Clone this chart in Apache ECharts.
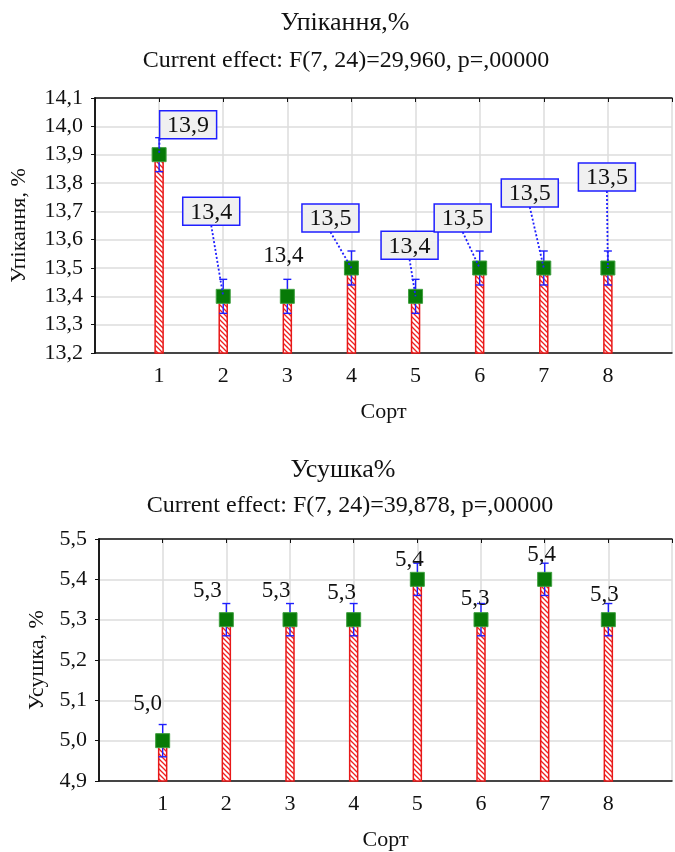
<!DOCTYPE html>
<html>
<head>
<meta charset="utf-8">
<script src="https://cdn.jsdelivr.net/npm/echarts@6/dist/echarts.min.js"></script>
<style>
  html, body { margin: 0; padding: 0; background: #fff; }
  #chart { width: 675px; height: 852px; }
</style>
</head>
<body>
<div id="chart"></div>
<script>
// сорти
var sorts = [1, 2, 3, 4, 5, 6, 7, 8];

// Упікання, %
var upikValues = [13.9, 13.4, 13.4, 13.5, 13.4, 13.5, 13.5, 13.5];
var upikErr = [0.06, 0.06, 0.06, 0.06, 0.06, 0.06, 0.06, 0.06];
var upikTicks = { min: 13.2, max: 14.1, step: 0.1 };

// Усушка, %
var usushValues = [5.0, 5.3, 5.3, 5.3, 5.4, 5.3, 5.4, 5.3];
var usushErr = [0.04, 0.04, 0.04, 0.04, 0.04, 0.04, 0.04, 0.04];
var usushTicks = { min: 4.9, max: 5.5, step: 0.1 };

// розміщення підписів (зсув від точки, px) і чи в рамці
var upikLabelShift = [[29, -30], [-12, -85], [-4, -41], [-21, -50], [-6, -51], [-17, -50], [-14, -75], [-1, -91]];
var upikLabelBoxed = [true, true, false, true, true, true, true, true];
var usushLabelShift = [[-15, -38], [-19, -30], [-14, -30], [-12, -28], [-8, -20], [-6, -22], [-3, -25], [-4, -26]];

var FONT = '"Liberation Serif", "Times New Roman", serif';

function fmt(v) {
    return v.toFixed(1).replace('.', ',');
}

// штрихування стовпчиків
function makeHatch() {
    var c = document.createElement('canvas');
    c.width = 5; c.height = 5;
    var ctx = c.getContext('2d');
    ctx.fillStyle = '#fff';
    ctx.fillRect(0, 0, 5, 5);
    ctx.strokeStyle = '#f02020';
    ctx.lineWidth = 1.3;
    ctx.beginPath();
    ctx.moveTo(0, 0); ctx.lineTo(5, 5);
    ctx.moveTo(-2, 3); ctx.lineTo(2, 7);
    ctx.moveTo(3, -2); ctx.lineTo(7, 2);
    ctx.stroke();
    return c;
}
var hatch = { image: makeHatch(), repeat: 'repeat' };

function pointRender(yMin) {
    return function (params, api) {
        var x = api.value(0), v = api.value(1), e = api.value(2);
        var top = api.coord([x, v]);
        var base = api.coord([x, yMin]);
        var hi = api.coord([x, v + e]);
        var lo = api.coord([x, v - e]);
        var bw = 8, cap = 4, sq = 14;
        return {
            type: 'group',
            children: [
                { type: 'rect', shape: { x: top[0] - bw / 2, y: top[1], width: bw, height: base[1] - top[1] },
                  style: { fill: hatch, stroke: '#e81818', lineWidth: 1.5 } },
                { type: 'line', shape: { x1: hi[0], y1: hi[1], x2: lo[0], y2: lo[1] },
                  style: { stroke: '#1f1fff', lineWidth: 1.4 } },
                { type: 'line', shape: { x1: hi[0] - cap, y1: hi[1], x2: hi[0] + cap, y2: hi[1] },
                  style: { stroke: '#1f1fff', lineWidth: 1.4 } },
                { type: 'line', shape: { x1: lo[0] - cap, y1: lo[1], x2: lo[0] + cap, y2: lo[1] },
                  style: { stroke: '#1f1fff', lineWidth: 1.4 } },
                { type: 'rect', shape: { x: top[0] - sq / 2, y: top[1] - sq / 2, width: sq, height: sq },
                  style: { fill: '#077a07', stroke: '#3f9f3f', lineWidth: 1 } }
            ]
        };
    };
}

function labelRender(params, api) {
    var x = api.value(0), v = api.value(1);
    var dx = api.value(2), dy = api.value(3), boxed = api.value(4);
    var p = api.coord([x, v]);
    var cx = p[0] + dx, cy = p[1] + dy;
    var txt = { type: 'text', style: { text: fmt(v), x: cx, y: cy + 1, align: 'center', verticalAlign: 'middle',
                font: (boxed ? '24px ' : '23px ') + FONT, fill: '#111' } };
    if (!boxed) return txt;
    var w = 57, h = 28;
    var left = cx - w / 2, bottom = cy + h / 2;
    var sx = Math.min(Math.max(p[0], left), cx);
    return {
        type: 'group',
        children: [
            { type: 'line', shape: { x1: sx, y1: bottom, x2: p[0], y2: p[1] },
              style: { stroke: '#1f1fff', lineWidth: 1.8, lineDash: [2, 2] } },
            { type: 'rect', shape: { x: left, y: cy - h / 2, width: w, height: h },
              style: { fill: '#f0f0f0', stroke: '#1f1fff', lineWidth: 1.5 } },
            txt
        ]
    };
}

function xAxes(gridIndex) {
    var common = { type: 'value', gridIndex: gridIndex, min: 0, max: 9, interval: 1 };
    return [
        Object.assign({}, common, {
            position: 'bottom',
            name: 'Сорт', nameLocation: 'middle', nameGap: 48,
            nameTextStyle: { fontFamily: FONT, fontSize: 22, color: '#111' },
            axisLine: { lineStyle: { color: '#111', width: 1.5 } },
            axisTick: { show: false },
            axisLabel: { margin: 12, fontFamily: FONT, fontSize: 22, color: '#111',
                formatter: function (v) { return (v >= 1 && v <= 8) ? String(v) : ''; } },
            splitLine: { show: true, lineStyle: { color: '#dcdcdc', width: 1.5 } }
        }),
        Object.assign({}, common, {
            position: 'top',
            axisLine: { lineStyle: { color: '#111', width: 1.5 } },
            axisTick: { inside: true, length: 4, lineStyle: { color: '#111' } },
            axisLabel: { show: false },
            splitLine: { show: false }
        })
    ];
}

function yAxes(gridIndex, ticks, name, gap) {
    var common = { type: 'value', gridIndex: gridIndex, min: ticks.min, max: ticks.max, interval: ticks.step };
    return [
        Object.assign({}, common, {
            position: 'left',
            name: name, nameLocation: 'middle', nameGap: gap,
            nameTextStyle: { fontFamily: FONT, fontSize: 22, color: '#111' },
            axisLine: { show: true, lineStyle: { color: '#111', width: 1.5 } },
            axisTick: { show: false },
            axisLabel: { margin: 12, fontFamily: FONT, fontSize: 22, color: '#111',
                formatter: function (v) { return fmt(v); } },
            splitLine: { show: true, lineStyle: { color: '#dcdcdc', width: 1.5 } }
        }),
        Object.assign({}, common, {
            position: 'right',
            axisLine: { show: true, lineStyle: { color: '#111', width: 1.5 } },
            axisTick: { show: true, inside: true, length: 4, lineStyle: { color: '#111' } },
            axisLabel: { show: false },
            splitLine: { show: false }
        })
    ];
}

var upikPoints = sorts.map(function (s, i) { return [s, upikValues[i], upikErr[i]]; });
var usushPoints = sorts.map(function (s, i) { return [s, usushValues[i], usushErr[i]]; });
var upikLabels = sorts.map(function (s, i) {
    return [s, upikValues[i], upikLabelShift[i][0], upikLabelShift[i][1], upikLabelBoxed[i] ? 1 : 0];
});
var usushLabels = sorts.map(function (s, i) {
    return [s, usushValues[i], usushLabelShift[i][0], usushLabelShift[i][1], 0];
});

var chart = echarts.init(document.getElementById('chart'), null, { renderer: 'canvas' });

var option = {
    backgroundColor: '#fff',
    animation: false,
    title: [
        { text: 'Упікання,%', left: 345, top: 10, padding: 0, textAlign: 'center',
          textStyle: { fontFamily: FONT, fontSize: 26, fontWeight: 'normal', color: '#111' } },
        { text: 'Current effect: F(7, 24)=29,960, p=,00000', left: 346, top: 49, padding: 0, textAlign: 'center',
          textStyle: { fontFamily: FONT, fontSize: 24, fontWeight: 'normal', color: '#111' } },
        { text: 'Усушка%', left: 343, top: 457, padding: 0, textAlign: 'center',
          textStyle: { fontFamily: FONT, fontSize: 26, fontWeight: 'normal', color: '#111' } },
        { text: 'Current effect: F(7, 24)=39,878, p=,00000', left: 350, top: 494, padding: 0, textAlign: 'center',
          textStyle: { fontFamily: FONT, fontSize: 24, fontWeight: 'normal', color: '#111' } }
    ],
    grid: [
        { left: 94, right: -1, top: 98, bottom: 499 },
        { left: 99, right: -2, top: 539, bottom: 69 }
    ],
    xAxis: xAxes(0).concat(xAxes(1)),
    yAxis: yAxes(0, upikTicks, 'Упікання, %', 65).concat(yAxes(1, usushTicks, 'Усушка, %', 48)),
    series: [
        { type: 'custom', xAxisIndex: 0, yAxisIndex: 0, renderItem: pointRender(upikTicks.min), data: upikPoints },
        { type: 'custom', xAxisIndex: 0, yAxisIndex: 0, renderItem: labelRender, data: upikLabels },
        { type: 'custom', xAxisIndex: 2, yAxisIndex: 2, renderItem: pointRender(usushTicks.min), data: usushPoints },
        { type: 'custom', xAxisIndex: 2, yAxisIndex: 2, renderItem: labelRender, data: usushLabels }
    ]
};
chart.setOption(option);
</script>
</body>
</html>
